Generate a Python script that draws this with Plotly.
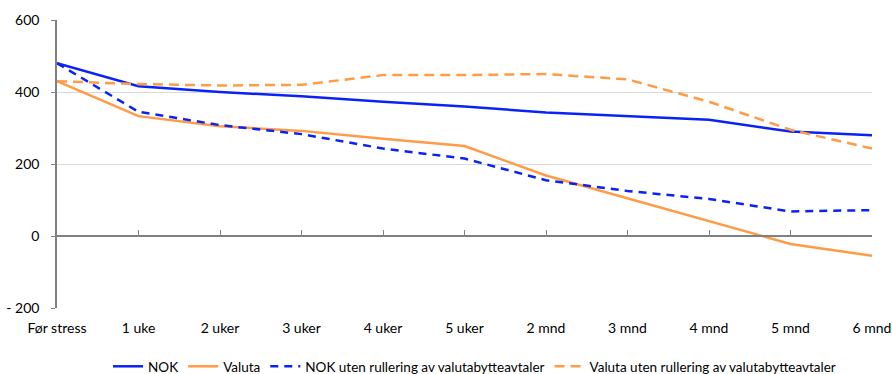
import plotly.graph_objects as go

categories = ["Før stress", "1 uke", "2 uker", "3 uker", "4 uker", "5 uker",
              "2 mnd", "3 mnd", "4 mnd", "5 mnd", "6 mnd"]
nok = [480, 416, 400, 388, 373, 360, 343, 333, 323, 290, 280]
valuta = [430, 333, 305, 292, 270, 250, 168, 105, 40, -22, -55]
nok_uten = [480, 345, 308, 283, 243, 215, 155, 125, 103, 68, 72]
valuta_uten = [430, 422, 418, 420, 447, 447, 450, 435, 373, 295, 243]

y_tickvals = [-200, 0, 200, 400, 600]
y_ticktext = ["- 200", "0", "200", "400", "600"]

BLUE = "#0A22F5"
ORANGE = "#FF9B45"
FONT = "Lato, Calibri, Carlito, 'Liberation Sans', sans-serif"

fig = go.Figure()
fig.add_trace(go.Scatter(x=categories, y=nok, name="NOK", mode="lines",
                         line=dict(color=BLUE, width=2.5)))
fig.add_trace(go.Scatter(x=categories, y=valuta, name="Valuta", mode="lines",
                         line=dict(color=ORANGE, width=2.5)))
fig.add_trace(go.Scatter(x=categories, y=nok_uten, name="NOK uten rullering av valutabytteavtaler",
                         mode="lines", line=dict(color=BLUE, width=2.5, dash="8px,6px")))
fig.add_trace(go.Scatter(x=categories, y=valuta_uten, name="Valuta uten rullering av valutabytteavtaler",
                         mode="lines", line=dict(color=ORANGE, width=2.5, dash="10px,6px")))
# invisible trace for zero-crossing category axis
fig.add_trace(go.Scatter(x=categories, y=[0] * len(categories), xaxis="x2", mode="lines",
                         line=dict(width=0), showlegend=False, hoverinfo="skip"))

fig.update_layout(
    width=892, height=374,
    margin=dict(l=57, r=20, t=20, b=66, autoexpand=False),
    paper_bgcolor="white", plot_bgcolor="white",
    font=dict(family=FONT, size=13.5, color="#000000"),
    xaxis=dict(type="category", range=[0, len(categories) - 1], showgrid=False,
               showline=False, ticks="", zeroline=False, tickfont=dict(size=14),
               ticklabelstandoff=10, automargin=False),
    xaxis2=dict(type="category", range=[0, len(categories) - 1], overlaying="x",
                anchor="free", position=0.25, side="bottom", showline=True,
                linecolor="#808080", linewidth=1.5, ticks="inside", ticklen=5,
                tickcolor="#808080", showticklabels=False, showgrid=False),
    yaxis=dict(range=[-200, 600], tickvals=y_tickvals, ticktext=y_ticktext,
               showgrid=True, gridcolor="#D9D9D9", gridwidth=1, zeroline=False,
               showline=True, linecolor="#808080", linewidth=1.5,
               ticks="outside", ticklen=4, tickcolor="#808080", ticklabelstandoff=9,
               tickfont=dict(size=14), automargin=False),
    legend=dict(orientation="h", x=0.532, xanchor="center", xref="container",
                y=0.02, yanchor="middle", yref="container",
                font=dict(size=13.5), itemwidth=30, tracegroupgap=0),
    showlegend=True,
)

fig.write_html("out.html")
